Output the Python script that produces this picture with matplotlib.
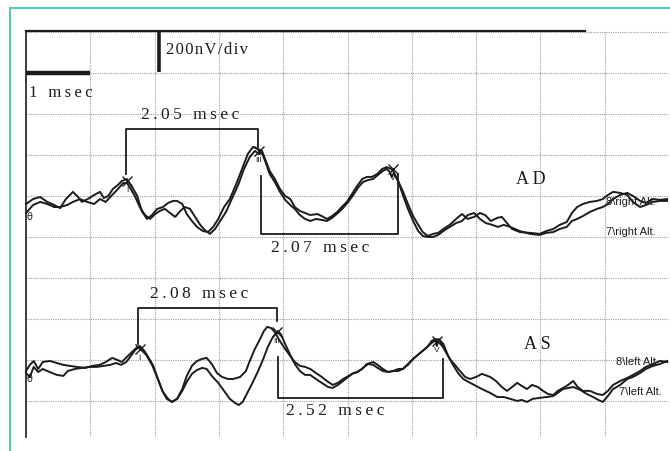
import matplotlib
matplotlib.use("Agg")
import matplotlib.pyplot as plt
from matplotlib.lines import Line2D

# ABR recording, right ear (AD) and left ear (AS), two runs each
# time in msec, amplitude in nV relative to the trace baseline

ad1_t = [0.00, 0.11, 0.22, 0.33, 0.44, 0.53, 0.62, 0.73, 0.81, 0.87, 0.96, 1.06, 1.15, 1.21, 1.28,
         1.35, 1.43, 1.49, 1.57, 1.65, 1.73, 1.80, 1.88, 1.96, 2.04, 2.13, 2.21, 2.29, 2.35, 2.43,
         2.50, 2.58, 2.66, 2.75, 2.83, 2.91, 2.99, 3.08, 3.17, 3.27, 3.36, 3.45, 3.53, 3.61, 3.67,
         3.73, 3.79, 3.87, 3.95, 4.03, 4.11, 4.18, 4.26, 4.34, 4.42, 4.53, 4.60, 4.68, 4.76, 4.84,
         4.91, 4.99, 5.07, 5.15, 5.23, 5.30, 5.38, 5.46, 5.54, 5.61, 5.68, 5.71, 5.77, 5.86, 5.94,
         6.02, 6.10, 6.17, 6.25, 6.33, 6.41, 6.49, 6.59, 6.69, 6.78, 6.87, 6.97, 7.06, 7.14, 7.23,
         7.33, 7.40, 7.48, 7.56, 7.68, 7.84, 7.99, 8.09, 8.20, 8.30, 8.41, 8.49, 8.57, 8.66, 8.77,
         8.88, 8.97, 9.05, 9.13, 9.24, 9.35, 9.44, 9.55, 9.64, 9.75, 9.86, 9.97]
ad1_v = [0, 24, 34, 10, -5, -20, 24, 59, 34, 10, 24, 44, 59, 29, 39,
         73, 93, 112, 122, 83, 39, -34, -73, -54, -24, -15, 5, 15, 15, 0,
         -49, -83, -112, -132, -137, -112, -73, -15, 24, 98, 171, 244, 278, 268, 259,
         210, 161, 122, 73, 39, 24, -15, -34, -44, -54, -49, -59, -73, -59, -39,
         -15, 10, 49, 88, 122, 132, 132, 146, 171, 180, 171, 161, 122, 63, 0,
         -59, -102, -137, -156, -146, -141, -122, -102, -73, -49, -73, -63, -44, -54, -83,
         -68, -63, -93, -122, -137, -141, -146, -132, -122, -102, -88, -44, -15, 0, 10,
         15, 24, 44, 59, 54, 44, 10, -15, -5, 10, 15, 15]

ad2_t = [0.00, 0.11, 0.22, 0.33, 0.44, 0.53, 0.64, 0.73, 0.84, 0.95, 1.06, 1.15, 1.24, 1.34, 1.43,
         1.51, 1.57, 1.63, 1.70, 1.77, 1.85, 1.93, 2.01, 2.08, 2.16, 2.24, 2.32, 2.40, 2.47, 2.55,
         2.63, 2.71, 2.78, 2.86, 2.94, 3.02, 3.11, 3.20, 3.30, 3.39, 3.48, 3.56, 3.62, 3.67, 3.73,
         3.79, 3.87, 3.95, 4.03, 4.11, 4.18, 4.26, 4.34, 4.42, 4.51, 4.60, 4.68, 4.76, 4.85, 4.93,
         5.01, 5.09, 5.16, 5.24, 5.32, 5.40, 5.47, 5.55, 5.61, 5.66, 5.69, 5.72, 5.79, 5.86, 5.94,
         6.02, 6.10, 6.17, 6.25, 6.33, 6.41, 6.49, 6.59, 6.69, 6.78, 6.87, 6.97, 7.06, 7.15, 7.25,
         7.34, 7.43, 7.53, 7.68, 7.84, 7.99, 8.09, 8.20, 8.30, 8.41, 8.49, 8.57, 8.66, 8.77, 8.88,
         8.97, 9.05, 9.13, 9.24, 9.35, 9.44, 9.55, 9.64, 9.75, 9.86, 9.97]
ad2_v = [-44, -5, 10, 0, -15, -15, -5, 10, 24, 10, 0, 24, 10, 44, 73,
         102, 102, 73, 34, -15, -54, -73, -49, -34, -24, -44, -63, -34, -15, -24,
         -63, -102, -127, -146, -122, -83, -39, 24, 93, 171, 229, 259, 244, 249, 200,
         146, 107, 59, 20, -5, -24, -54, -73, -83, -73, -78, -83, -68, -44, -20,
         10, 44, 78, 107, 117, 122, 141, 161, 171, 156, 132, 151, 112, 44, -24,
         -83, -132, -156, -161, -161, -151, -132, -112, -93, -83, -54, -44, -73, -93, -102,
         -112, -102, -112, -132, -146, -151, -141, -137, -122, -112, -83, -73, -59, -39, -24,
         -15, 0, 24, 44, 54, 39, 15, 5, 24, 20, 24]

as1_t = [0.00, 0.06, 0.12, 0.19, 0.26, 0.37, 0.48, 0.58, 0.68, 0.79, 0.92, 1.03, 1.15, 1.24, 1.34,
         1.42, 1.49, 1.57, 1.65, 1.73, 1.77, 1.84, 1.90, 1.98, 2.05, 2.13, 2.21, 2.27, 2.35, 2.43,
         2.50, 2.58, 2.66, 2.74, 2.81, 2.89, 2.97, 3.05, 3.14, 3.22, 3.33, 3.42, 3.48, 3.56, 3.64,
         3.70, 3.75, 3.81, 3.87, 3.93, 4.01, 4.11, 4.18, 4.26, 4.34, 4.42, 4.51, 4.60, 4.68, 4.77,
         4.85, 4.93, 4.99, 5.07, 5.15, 5.23, 5.30, 5.40, 5.47, 5.55, 5.63, 5.71, 5.79, 5.86, 5.94,
         6.02, 6.13, 6.24, 6.31, 6.39, 6.44, 6.52, 6.59, 6.67, 6.75, 6.83, 6.91, 7.00, 7.09, 7.22,
         7.31, 7.40, 7.48, 7.56, 7.64, 7.71, 7.79, 7.87, 7.96, 8.04, 8.12, 8.20, 8.27, 8.35, 8.43,
         8.51, 8.58, 8.66, 8.77, 8.88, 8.97, 9.05, 9.13, 9.24, 9.35, 9.44, 9.55, 9.64, 9.75, 9.86,
         9.97]
as1_v = [-10, 20, 39, 0, 34, 39, 29, 20, 15, 10, 5, 15, 20, 34, 54,
         44, 34, 59, 83, 107, 112, 88, 59, 15, -49, -112, -146, -161, -146, -98,
         -34, 15, 39, 49, 54, 24, -20, -39, -49, -49, -39, -10, 39, 98, 146,
         185, 205, 200, 180, 146, 107, 63, 34, 15, 10, 0, -20, -39, -59, -78,
         -68, -49, -39, -24, -15, 0, 24, 34, 20, 0, -15, -10, 0, 0, 20,
         49, 78, 107, 127, 146, 132, 88, 49, 20, -10, -39, -49, -39, -24, -39,
         -59, -88, -107, -88, -68, -83, -98, -78, -88, -107, -122, -127, -107, -93, -78,
         -59, -88, -107, -107, -122, -127, -107, -78, -59, -44, -29, -10, 10, 24, 39,
         34]

as2_t = [0.00, 0.06, 0.12, 0.19, 0.26, 0.37, 0.48, 0.58, 0.65, 0.76, 0.87, 1.00, 1.10, 1.21, 1.31,
         1.40, 1.48, 1.56, 1.63, 1.70, 1.76, 1.82, 1.88, 1.96, 2.04, 2.12, 2.19, 2.27, 2.35, 2.43,
         2.50, 2.58, 2.66, 2.74, 2.81, 2.89, 2.99, 3.08, 3.17, 3.25, 3.31, 3.37, 3.45, 3.53, 3.61,
         3.69, 3.76, 3.84, 3.92, 3.97, 4.03, 4.11, 4.18, 4.26, 4.34, 4.42, 4.51, 4.60, 4.70, 4.77,
         4.85, 4.93, 5.01, 5.09, 5.16, 5.24, 5.32, 5.40, 5.47, 5.55, 5.63, 5.71, 5.79, 5.86, 5.94,
         6.02, 6.13, 6.24, 6.31, 6.36, 6.39, 6.42, 6.49, 6.56, 6.64, 6.72, 6.80, 6.91, 7.00, 7.09,
         7.22, 7.33, 7.43, 7.53, 7.64, 7.71, 7.79, 7.88, 7.99, 8.10, 8.20, 8.27, 8.35, 8.43, 8.51,
         8.62, 8.72, 8.82, 8.90, 8.97, 9.05, 9.13, 9.24, 9.35, 9.44, 9.55, 9.64, 9.75, 9.86, 9.97]
as2_v = [-20, -39, 10, -15, 0, -15, -29, -34, -10, 0, 5, 10, 10, 15, 20,
         29, 20, 34, 63, 93, 107, 93, 63, 20, -39, -107, -146, -161, -146, -107,
         -63, -24, -5, 5, 0, -34, -68, -107, -146, -166, -176, -161, -112, -63, -10,
         49, 107, 156, 185, 166, 122, 68, 24, -10, -29, -29, -49, -68, -88, -93,
         -78, -59, -39, -20, -15, 5, 24, 20, 5, -10, -15, -10, -10, 0, 24,
         49, 78, 107, 137, 146, 112, 146, 122, 68, 20, -20, -49, -68, -83, -98,
         -117, -137, -137, -146, -156, -151, -161, -146, -141, -137, -132, -117, -98, -93, -88,
         -102, -122, -137, -151, -161, -132, -98, -78, -49, -39, -20, 0, 15, 24, 39]

# baselines of the two recordings on the page (nV)
ad_base = 961
as_base = 156

# wave I / III / V peaks picked by the system (msec, nV on page)
ad_peaks_t = [1.57, 3.62, 5.71]
ad_peaks_v = [1073, 1220, 1132]
as_peaks_t = [1.77, 3.90, 6.39]
as_peaks_v = [254, 337, 293]
peak_names = ["I", "III", "V"]

# interpeak latencies
ad_lat = ["2.05 msec", "2.07 msec"]
as_lat = ["2.08 msec", "2.52 msec"]

ink = "#1c1c1c"
serif = "Liberation Serif"


def spaced(s, gap="\u2009"):
    # the printout uses wide letter spacing
    return gap.join(s)


fig = plt.figure(figsize=(6.7, 4.52), dpi=100)
fig.patch.set_facecolor("white")

# teal frame of the figure panel
teal = "#55c9b5"
fig.add_artist(Line2D([10 / 670, 10 / 670], [0, 1 - 9 / 452], color=teal, lw=1.5))
fig.add_artist(Line2D([10 / 670, 1], [1 - 9 / 452, 1 - 9 / 452], color=teal, lw=1.5))

ax = fig.add_axes([26 / 670, 14 / 452, 643 / 670, 406 / 452])
ax.set_xlim(0, 10)
ax.set_ylim(-176, 1805)
ax.set_xticks(range(1, 10))
ax.set_yticks(range(0, 1801, 200))
ax.grid(True, color="#a0a0a0", lw=0.8, ls=(0, (1, 1)))
ax.tick_params(length=0, labelbottom=False, labelleft=False)
for s in ["top", "right", "bottom"]:
    ax.spines[s].set_visible(False)
ax.spines["left"].set_color(ink)
ax.spines["left"].set_linewidth(1.2)

# top edge of the trace window
ax.plot([0, 8.7], [1805, 1805], color=ink, lw=1.6, clip_on=False)

# calibration bars
ax.plot([2.07, 2.07], [1605, 1805], color=ink, lw=2.6, solid_capstyle="butt")
ax.plot([0, 1], [1600, 1600], color=ink, lw=3.2, solid_capstyle="butt")
ax.text(2.17, 1717, spaced("200nV/div", "\u200a"), family=serif, fontsize=12,
        va="center", color=ink)
ax.text(0.04, 1507, spaced("1 msec"), family=serif, fontsize=12, va="center", color=ink)

# traces
for t, v, base in [(ad1_t, ad1_v, ad_base), (ad2_t, ad2_v, ad_base),
                   (as1_t, as1_v, as_base), (as2_t, as2_v, as_base)]:
    ax.plot(t, [base + a for a in v], color=ink, lw=1.4, clip_on=False)

# peak markers
for pt, pv in [(ad_peaks_t, ad_peaks_v), (as_peaks_t, as_peaks_v)]:
    ax.plot(pt, pv, "x", color=ink, ms=7, mew=1.0)
    for x, y, name in zip(pt, pv, peak_names):
        ax.text(x, y - 25, name, family="Liberation Sans", fontsize=6, ha="center",
                va="top", color=ink)
ax.text(0.06, ad_base - 35, "θ", fontsize=7, ha="center", va="top", color=ink)
ax.text(0.06, as_base - 20, "θ", fontsize=7, ha="center", va="top", color=ink)


def bracket(x0, x1, y, y0, y1, label, lx, ly):
    ax.plot([x0, x0, x1, x1], [y0, y, y, y1], color=ink, lw=1.3)
    ax.text(lx, ly, spaced(label), family=serif, fontsize=12.5, ha="center",
            va="center", color=ink)


bracket(1.56, 3.61, 1327, 1107, 1239, ad_lat[0], 2.55, 1400)
bracket(3.65, 5.79, 815, 1098, 1107, ad_lat[1], 4.57, 751)
bracket(1.74, 3.90, 454, 278, 390, as_lat[0], 2.70, 527)
bracket(3.92, 6.49, 15, 215, 205, as_lat[1], 4.81, -44)

ax.text(7.85, 1083, spaced("AD"), family=serif, fontsize=13, ha="center", va="center", color=ink)
ax.text(7.95, 278, spaced("AS"), family=serif, fontsize=13, ha="center", va="center", color=ink)

side = dict(family="Liberation Sans", fontsize=8, va="center", color=ink, clip_on=False)
ax.text(9.02, 976, "8\\right Alt.", **side)
ax.text(9.02, 829, "7\\right Alt.", **side)
ax.text(9.17, 195, "8\\left Alt.", **side)
ax.text(9.22, 49, "7\\left Alt.", **side)

fig.savefig("out.png", dpi=100)
